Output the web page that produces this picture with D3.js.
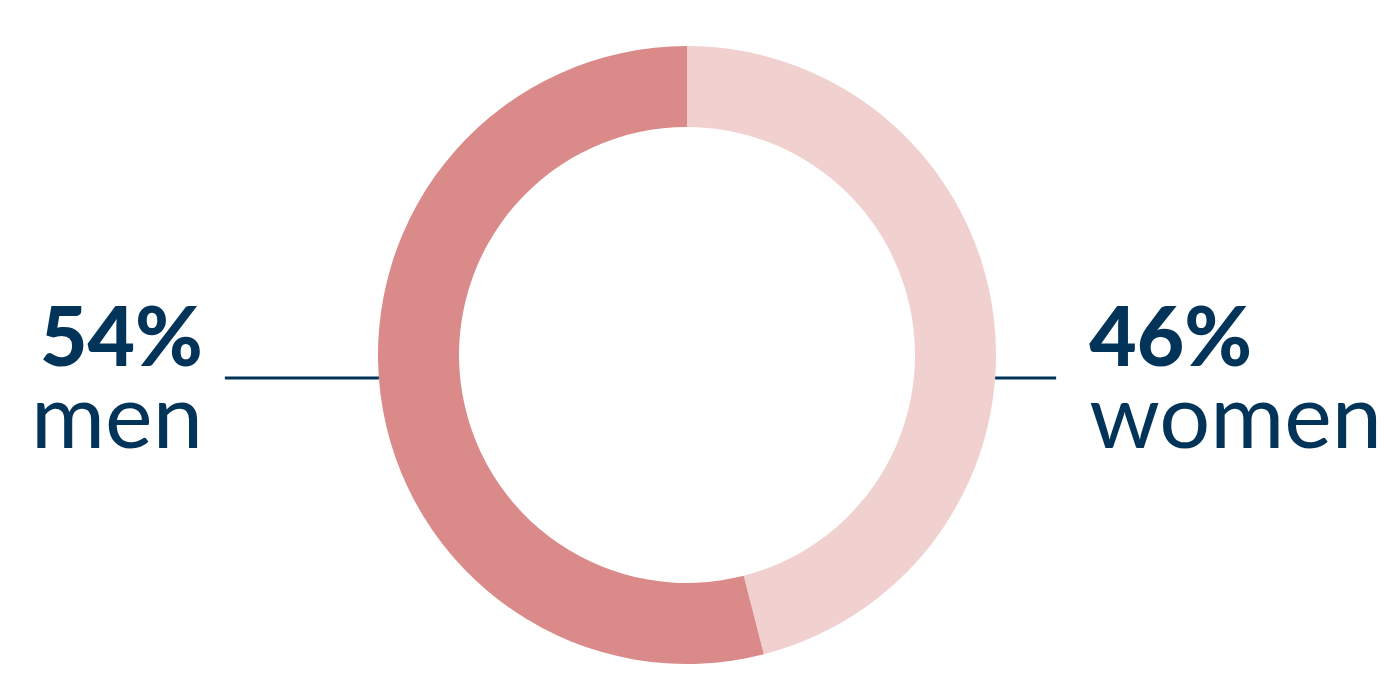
<!DOCTYPE html>
<html lang="en">
<head>
  <meta charset="UTF-8" />
  <title>Men / women donut</title>
  <script src="https://d3js.org/d3.v7.min.js"></script>
  <style>
    body { margin:0; padding:0; background:#fff; }
    svg { display:block; }
    .pct { font-family:"Lato", sans-serif; font-weight:900; fill:#02345a; }
    .lbl { font-family:"Lato", sans-serif; font-weight:400; fill:#02345a; }
  </style>
</head>
<body>
  <svg width="1399" height="690"></svg>
  <script>
  // data
  const categories = ["women", "men"];
  const values = [46, 54];
  const colors = ["#f0d1cf", "#db8a8a"];
  const side = ["right", "left"];

  const W = 1399, H = 690;
  const cx = 687, cy = 355, R = 309, r = 228;
  const svg = d3.select("svg");

  const pie = d3.pie().sort(null).value(d => d.value);
  const arc = d3.arc().innerRadius(r).outerRadius(R);
  const data = categories.map((c, i) => ({ name: c, value: values[i], color: colors[i], side: side[i] }));

  const g = svg.append("g").attr("transform", `translate(${cx},${cy})`);
  g.selectAll("path").data(pie(data)).enter().append("path")
    .attr("d", arc)
    .attr("fill", d => d.data.color);

  // leader lines + labels
  const lineY = 23, lineLen = { left: 154, right: 61 };
  const edge = Math.sqrt(R * R - lineY * lineY);
  data.forEach(d => {
    const s = d.side === "left" ? -1 : 1;
    const x0 = s * edge, x1 = s * (edge + lineLen[d.side]);
    g.append("line")
      .attr("x1", x0).attr("x2", x1)
      .attr("y1", lineY).attr("y2", lineY)
      .attr("stroke", "#02345a").attr("stroke-width", 3);
    const tx = d.side === "left" ? x1 - 22 : x1 + 33;
    const anchor = d.side === "left" ? "end" : "start";
    g.append("text").attr("class", "pct")
      .attr("x", tx).attr("y", 11)
      .attr("text-anchor", anchor)
      .attr("font-size", 82)
      .text(d.value + "%");
    g.append("text").attr("class", "lbl")
      .attr("x", tx).attr("y", 93)
      .attr("text-anchor", anchor)
      .attr("font-size", 90)
      .text(d.name);
  });
  </script>
</body>
</html>
